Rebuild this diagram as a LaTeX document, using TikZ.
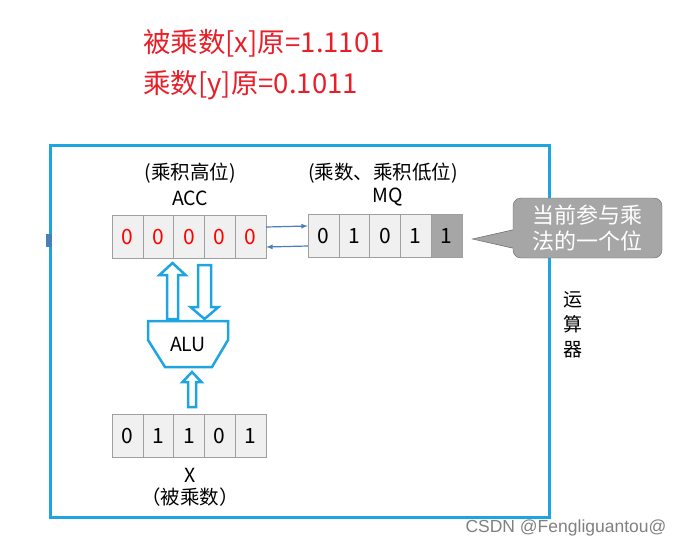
\documentclass[tikz,border=0pt]{standalone}
\usepackage{xcolor}
\usepackage{fontspec}
\setmainfont{Noto Sans CJK SC}
\newfontfamily\wmfont{Liberation Sans}
\usepackage{tikz}
\usetikzlibrary{arrows}

\definecolor{frameblue}{RGB}{30,165,225}
\definecolor{linkblue}{RGB}{74,126,187}
\definecolor{titlered}{RGB}{232,30,40}
\definecolor{cellgray}{RGB}{240,240,240}
\definecolor{hintgray}{RGB}{166,166,166}

\begin{document}
\begin{tikzpicture}[x=1pt, y=-1pt,
  cell/.style={draw=gray!75, fill=cellgray, minimum width=30.8pt, minimum height=43pt, inner sep=0pt, font=\fontsize{21}{21}\selectfont},
  lbl/.style={inner sep=0pt, font=\fontsize{19.5}{19.5}\selectfont},
  hollow/.style={draw=frameblue, line width=2.5pt, fill=white, line join=miter}]
          \useasboundingbox (0,0) rectangle (686,547);

          \node[anchor=west, inner sep=0pt, text=titlered, font=\fontsize{27.5}{27.5}\selectfont] (title1) at (143,43) {被乘数[x]原=1.1101};
          \node[anchor=west, inner sep=0pt, text=titlered, font=\fontsize{27.5}{27.5}\selectfont] (title2) at (143,85) {乘数[y]原=0.1011};

          \draw[frameblue, line width=3pt] (50,145) rectangle (549,517);
          \fill[linkblue] (46,234) rectangle (52,247);

          \foreach \d [count=\xi from 1] in {0,0,0,0,0}{%
            \node[cell, text=red] (acc\xi) at ({127.4+30.8*(\xi-1)}, 237) {\d};
          }
          \foreach \d [count=\xi from 1] in {0,1,0,1,1}{%
            \node[cell] (mq\xi) at ({323.4+30.8*(\xi-1)}, 236) {\d};
          }
          \node[cell, fill=hintgray] at (mq5) {1};
          \foreach \d [count=\xi from 1] in {0,1,1,0,1}{%
            \node[cell] (x\xi) at ({127.4+30.8*(\xi-1)}, 436) {\d};
          }

          \node[lbl] (acchigh) at (190,173) {(乘积高位)};
          \node[lbl] (accname) at (190,198) {ACC};
          \node[lbl] (mqlow) at (383,173) {(乘数、乘积低位)};
          \node[lbl] (mqname) at (388,197) {MQ};
          \node[lbl] (xname) at (190,475) {X};
          \node[lbl] (xmul) at (190,497) {（被乘数）};

          \draw[linkblue, line width=1.2pt, -latex] ([yshift=10pt]acc5.east) -- ([yshift=10pt]mq1.west);
          \draw[linkblue, line width=1.2pt, -latex] ([yshift=-10pt]mq1.west) -- ([yshift=-10pt]acc5.east);

          \draw[frameblue, line width=2.5pt, fill=white] (148,321) -- (228,321) -- (228,340) -- (212,367) -- (165,367) -- (148,340) -- cycle;
          \node[lbl] (alu) at (188,344) {ALU};

          \foreach \cx/\tip/\tail/\hl/\hs/\hw in {172.5/263/319/12/5.5/13, 204.5/319/265/-12/6.5/14, 192/372/407/10/4/9.5}{%
            \draw[hollow] (\cx-\hs,\tail) -- (\cx-\hs,\tip+\hl) -- (\cx-\hw,\tip+\hl) -- (\cx,\tip) -- (\cx+\hw,\tip+\hl) -- (\cx+\hs,\tip+\hl) -- (\cx+\hs,\tail) -- cycle;
          }

          \node[draw=gray!80!black, fill=hintgray, rounded corners=8pt, minimum width=149pt, minimum height=60pt, inner sep=0pt, text=white, align=center, font=\fontsize{22}{26}\selectfont] (hint) at (587.5,228) {当前参与乘\\法的一个位};
          \coordinate (tip) at ([xshift=10pt, yshift=-3pt]mq5.east);
          \fill[hintgray] ([xshift=2pt, yshift=-1pt]hint.west) -- (tip) -- ([xshift=2pt, yshift=-21pt]hint.west) -- cycle;
          \draw[gray!80!black] ([yshift=-2pt]hint.west) -- (tip) -- ([yshift=-20pt]hint.west);

          \node[lbl, align=center, font=\fontsize{19}{25}\selectfont] (unit) at (573,325) {运\\算\\器};

          \node[inner sep=0pt, text=gray, font=\wmfont\fontsize{17.5}{17.5}\selectfont] (csdn) at (566,528) {CSDN @Fengliguantou@};
        \end{tikzpicture}
\end{document}
